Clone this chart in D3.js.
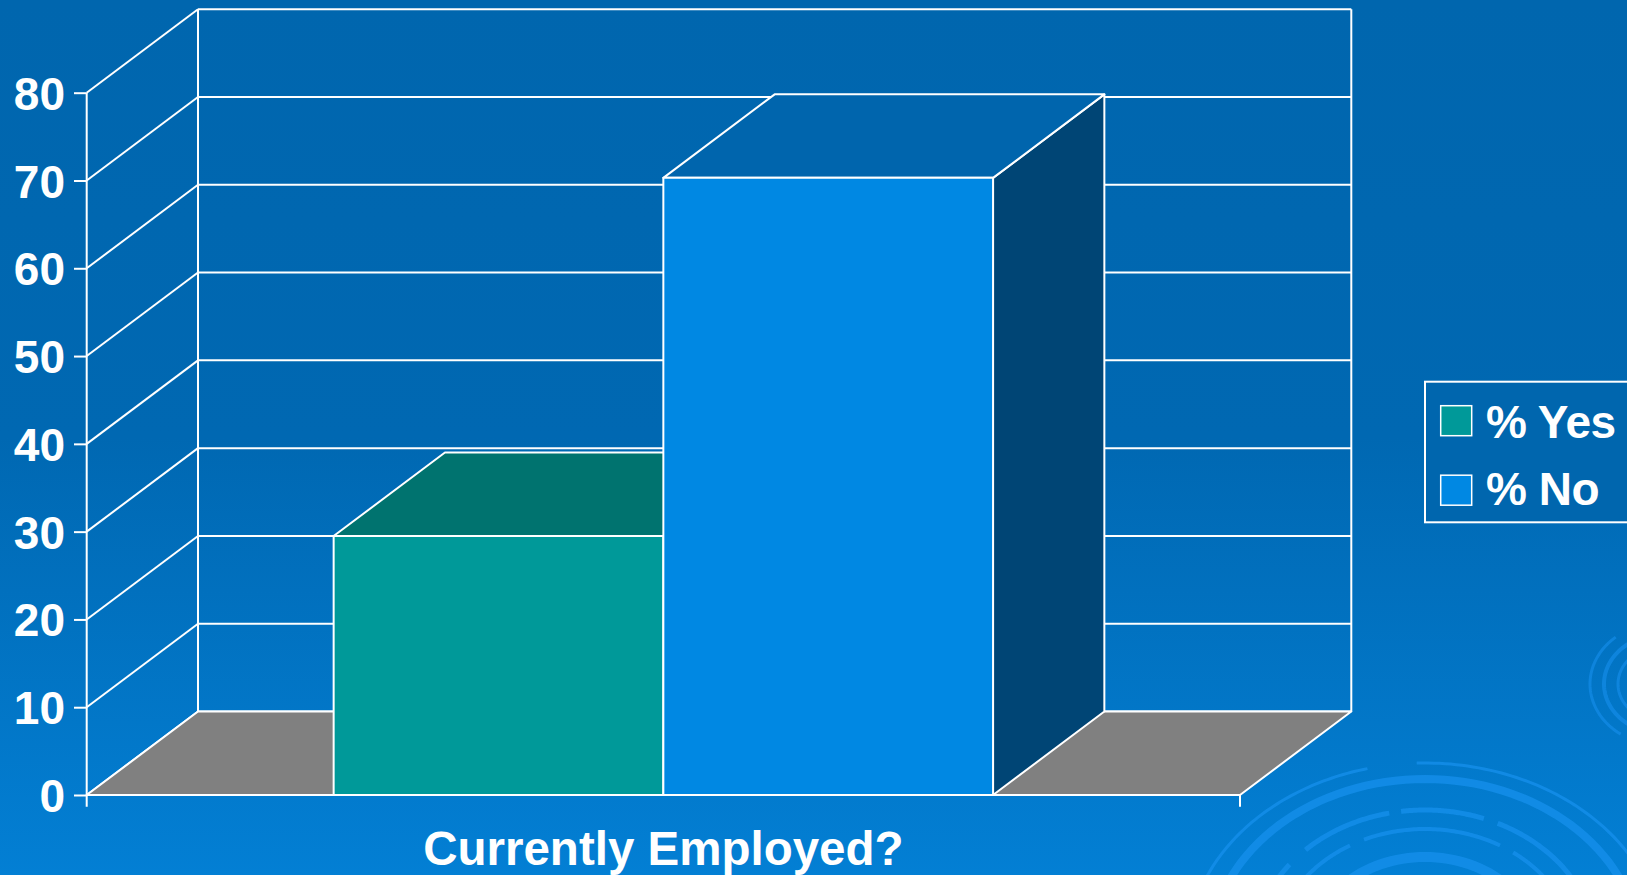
<!DOCTYPE html>
<html>
<head>
<meta charset="utf-8">
<script src="https://cdn.jsdelivr.net/npm/d3@7"></script>
<style>
  html, body { margin: 0; padding: 0; background: #0066ae; overflow: hidden; }
  svg { display: block; }
  text { font-family: "Liberation Sans", Arial, sans-serif; font-weight: bold; fill: #ffffff; }
</style>
</head>
<body>
<script>
// ---- data ----
const categories = ["Currently Employed?"];
const seriesNames = ["% Yes", "% No"];
const seriesValues = [29.5, 70.3];
const yTicks = [0, 10, 20, 30, 40, 50, 60, 70, 80];

// ---- styles ----
const frontColors = { "% Yes": "#009999", "% No": "#0088e3" };
const topColors   = { "% Yes": "#00736f", "% No": "#0065ad" };
const sideColors  = { "% Yes": "#005a5a", "% No": "#004575" };

const W = 1627, H = 875;
const plotLeft = 86.7, plotRight = 1240, plotBottom = 795, plotTop = 92.7;
const depthX = 111.3, depthY = -83.5;   // oblique offset of the back wall
const lineW = 2;

const svg = d3.select("body").append("svg").attr("width", W).attr("height", H);

// background
const defs = svg.append("defs");
const bg = defs.append("linearGradient").attr("id", "bg")
  .attr("x1", 0).attr("y1", 0).attr("x2", 0).attr("y2", 1);
bg.append("stop").attr("offset", "0").attr("stop-color", "#0066ae");
bg.append("stop").attr("offset", "0.5").attr("stop-color", "#0068b2");
bg.append("stop").attr("offset", "1").attr("stop-color", "#037fd4");
svg.append("rect").attr("width", W).attr("height", H).attr("fill", "url(#bg)");

// decorative ripples, lower right
const deco = svg.append("g").attr("fill", "none").attr("stroke", "#1790ec").attr("stroke-opacity", 0.75);
const ellipseArc = (cx, cy, rx, ry, a0, a1) => {
  const pts = d3.range(0, 61).map(i => {
    const a = a0 + (a1 - a0) * i / 60;
    return [cx + rx * Math.sin(a), cy - ry * Math.cos(a)];
  });
  return d3.line()(pts);
};
const rad = d => d * Math.PI / 180;
const cx1 = 1425, cy1 = 952;
[
  { rx: 238, ry: 189, w: 3, segs: [[-75, -14], [-2, 80]] },
  { rx: 215, ry: 173, w: 8, segs: [[-80, 80]] },
  { rx: 172, ry: 142, w: 5, segs: [[-70, -52], [-44, -12], [-8, 20], [25, 70]] },
  { rx: 150, ry: 123, w: 4, segs: [[-70, -30], [-24, 30], [36, 60]] },
  { rx: 115, ry: 95, w: 10, segs: [[-85, 85]] }
].forEach(r => r.segs.forEach(s => {
  deco.append("path")
    .attr("d", ellipseArc(cx1, cy1, r.rx, r.ry, rad(s[0]), rad(s[1])))
    .attr("stroke-width", r.w);
}));
deco.append("ellipse").attr("cx", cx1).attr("cy", cy1 + 10).attr("rx", 95).attr("ry", 70)
  .attr("fill", "#0a88e4").attr("stroke", "none").attr("opacity", 0.8);
[
  { r: 72, w: 3, segs: [[215, 320]] },
  { r: 58, w: 4, segs: [[200, 340]] },
  { r: 44, w: 3, segs: [[190, 355]] },
  { r: 30, w: 6, segs: [[180, 360]] }
].forEach(r => r.segs.forEach(s => {
  deco.append("path")
    .attr("d", ellipseArc(1662, 684, r.r, r.r * 0.85, rad(s[0]), rad(s[1])))
    .attr("stroke-width", r.w).attr("stroke-opacity", 0.6);
}));

// ---- scales ----
const y = d3.scaleLinear().domain([0, 80]).range([plotBottom, plotTop]);
const x0 = d3.scaleBand().domain(categories).range([plotLeft, plotRight])
  .paddingInner(0).paddingOuter(0.3745);
const x1 = d3.scaleBand().domain(seriesNames).range([0, x0.bandwidth()]).padding(0);

const chart = svg.append("g");

// back wall and side wall gridlines
const grid = chart.append("g").attr("stroke", "#ffffff").attr("stroke-width", lineW).attr("fill", "none");
yTicks.forEach(t => {
  grid.append("line")
    .attr("x1", plotLeft + depthX).attr("x2", plotRight + depthX)
    .attr("y1", y(t) + depthY).attr("y2", y(t) + depthY);
  grid.append("line")
    .attr("x1", plotLeft).attr("y1", y(t))
    .attr("x2", plotLeft + depthX).attr("y2", y(t) + depthY);
});
[plotLeft + depthX, plotRight + depthX].forEach(xv => {
  grid.append("line").attr("x1", xv).attr("x2", xv)
    .attr("y1", y(80) + depthY).attr("y2", y(0) + depthY);
});

// floor
const poly = pts => pts.map(p => p.join(",")).join(" ");
chart.append("polygon")
  .attr("points", poly([
    [plotLeft, y(0)], [plotRight, y(0)],
    [plotRight + depthX, y(0) + depthY], [plotLeft + depthX, y(0) + depthY]
  ]))
  .attr("fill", "#808080").attr("stroke", "#ffffff").attr("stroke-width", lineW)
  .attr("stroke-linejoin", "round");

// 3D bars
const bars = chart.append("g").attr("stroke", "#ffffff").attr("stroke-width", lineW)
  .attr("stroke-linejoin", "round");
seriesNames.forEach((s, i) => {
  const v = seriesValues[i];
  const xl = x0(categories[0]) + x1(s);
  const xr = xl + x1.bandwidth();
  const yt = y(v), yb = y(0);
  const g = bars.append("g");
  // right side
  g.append("polygon")
    .attr("points", poly([[xr, yt], [xr + depthX, yt + depthY], [xr + depthX, yb + depthY], [xr, yb]]))
    .attr("fill", sideColors[s]);
  // top
  g.append("polygon")
    .attr("points", poly([[xl, yt], [xr, yt], [xr + depthX, yt + depthY], [xl + depthX, yt + depthY]]))
    .attr("fill", topColors[s]);
  // front
  g.append("rect")
    .attr("x", xl).attr("y", yt).attr("width", xr - xl).attr("height", yb - yt)
    .attr("fill", frontColors[s]);
});

// y axis
const axis = chart.append("g")
  .attr("transform", `translate(${plotLeft},0)`)
  .call(d3.axisLeft(y).tickValues(yTicks).tickSize(12.7).tickSizeOuter(0).tickPadding(9));
axis.select(".domain").remove();
axis.selectAll(".tick line").attr("stroke", "#ffffff").attr("stroke-width", lineW);
axis.selectAll(".tick text")
  .attr("fill", "#ffffff").attr("font-size", 46)
  .attr("font-family", "'Liberation Sans', Arial, sans-serif").attr("font-weight", "bold")
  .attr("dy", "0.36em");

// front axis line and base line
const frame = chart.append("g").attr("stroke", "#ffffff").attr("stroke-width", lineW);
frame.append("line").attr("x1", plotLeft).attr("x2", plotLeft)
  .attr("y1", y(80)).attr("y2", y(0) + 11.7);
frame.append("line").attr("x1", plotLeft).attr("x2", plotRight)
  .attr("y1", y(0)).attr("y2", y(0));
frame.append("line").attr("x1", plotRight).attr("x2", plotRight)
  .attr("y1", y(0)).attr("y2", y(0) + 11.7);

// category title
svg.append("text")
  .attr("x", x0(categories[0]) + x0.bandwidth() / 2).attr("y", 865)
  .attr("text-anchor", "middle").attr("font-size", 47.5)
  .text(categories[0]);

// legend
const legend = svg.append("g");
legend.append("rect")
  .attr("x", 1425).attr("y", 381.7).attr("width", 240).attr("height", 140.6)
  .attr("fill", "#0066ae").attr("stroke", "#ffffff").attr("stroke-width", lineW);
seriesNames.forEach((s, i) => {
  const yy = 405.7 + i * 69.5;
  legend.append("rect")
    .attr("x", 1440.7).attr("y", yy).attr("width", 31).attr("height", 30)
    .attr("fill", frontColors[s]).attr("stroke", "#ffffff").attr("stroke-width", 1.5);
  legend.append("text")
    .attr("x", 1486).attr("y", 438.3 + i * 67)
    .attr("font-size", 46).attr("letter-spacing", -0.5)
    .text(s);
});
</script>
</body>
</html>
